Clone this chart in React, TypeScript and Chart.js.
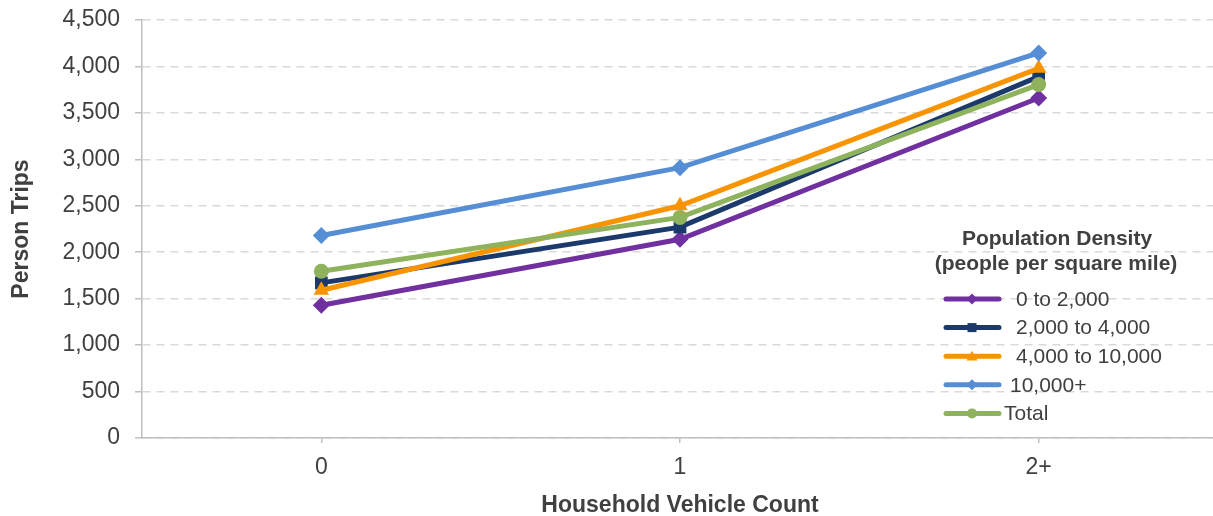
import React, { useEffect, useRef } from "react";
import { Chart, registerables } from "chart.js";

Chart.register(...registerables);

const categories = ["0", "1", "2+"];
const seriesLabels = ["0 to 2,000", "2,000 to 4,000", "4,000 to 10,000", "10,000+", "Total"];
const density0to2k = [1430, 2140, 3660];
const density2kto4k = [1670, 2270, 3890];
const density4kto10k = [1590, 2500, 3980];
const density10kPlus = [2180, 2910, 4145];
const densityTotal = [1795, 2375, 3805];
const yTicks = [0, 500, 1000, 1500, 2000, 2500, 3000, 3500, 4000, 4500];
const legendTitle = ["Population Density", "(people per square mile)"];

const colors = ["#7030A0", "#1B3A6B", "#F79400", "#558ED5", "#8EB35C"];
const markers = ["rectRot", "rect", "triangle", "rectRot", "circle"];
const markerRadius = [8.5, 9, 9, 8.5, 7.5];
const legendIndent = [16, 16, 16, 10, 4];

const FONT = '"Liberation Sans", Arial, sans-serif';
const TEXT = "#404040";
const AXIS = "#BFBFBF";

function drawMarker(ctx: CanvasRenderingContext2D, kind: string, x: number, y: number, r: number) {
  ctx.beginPath();
  if (kind === "rectRot") {
    ctx.moveTo(x, y - r);
    ctx.lineTo(x + r, y);
    ctx.lineTo(x, y + r);
    ctx.lineTo(x - r, y);
    ctx.closePath();
  } else if (kind === "rect") {
    ctx.rect(x - r, y - r, 2 * r, 2 * r);
  } else if (kind === "triangle") {
    ctx.moveTo(x, y - r);
    ctx.lineTo(x + r, y + r * 0.8);
    ctx.lineTo(x - r, y + r * 0.8);
    ctx.closePath();
  } else {
    ctx.arc(x, y, r, 0, Math.PI * 2);
  }
  ctx.fill();
}

const legendPlugin = {
  id: "customLegend",
  afterDraw(chart: any) {
    const ctx: CanvasRenderingContext2D = chart.ctx;
    ctx.save();
    ctx.fillStyle = TEXT;
    ctx.font = `bold 21px ${FONT}`;
    ctx.textAlign = "center";
    ctx.textBaseline = "middle";
    ctx.fillText(legendTitle[0], 1057, 239);
    ctx.fillText(legendTitle[1], 1056, 264);
    ctx.font = `21px ${FONT}`;
    ctx.textAlign = "left";
    seriesLabels.forEach((label, i) => {
      const y = 299 + i * 28.6;
      ctx.strokeStyle = colors[i];
      ctx.lineWidth = 5;
      ctx.lineCap = "round";
      ctx.beginPath();
      ctx.moveTo(946, y);
      ctx.lineTo(999, y);
      ctx.stroke();
      ctx.fillStyle = colors[i];
      const r = markers[i] === "rect" ? 4.5 : markers[i] === "circle" ? 5 : 5.5;
      drawMarker(ctx, markers[i], 972, y, r);
      ctx.fillStyle = TEXT;
      ctx.fillText(label, 1000 + legendIndent[i], y + 1);
    });
    ctx.restore();
  },
};

export default function App() {
  const ref = useRef<HTMLCanvasElement>(null);
  useEffect(() => {
    document.body.style.margin = "0";
    const values = [density0to2k, density2kto4k, density4kto10k, density10kPlus, densityTotal];
    const chart = new Chart(ref.current as HTMLCanvasElement, {
      type: "line",
      data: {
        labels: categories,
        datasets: seriesLabels.map((label, i) => ({
          label,
          data: values[i],
          borderColor: colors[i],
          backgroundColor: colors[i],
          borderWidth: 5,
          pointStyle: markers[i] as any,
          pointRadius: markerRadius[i],
          pointBorderWidth: 0,
          pointBackgroundColor: colors[i],
          tension: 0,
          order: seriesLabels.length - i,
        })),
      },
      options: {
        animation: false,
        responsive: false,
        layout: { autoPadding: false, padding: { top: 20, right: 0, left: 0, bottom: 0 } },
        plugins: { legend: { display: false }, tooltip: { enabled: false } },
        scales: {
          x: {
            type: "category",
            offset: true,
            border: { display: true, color: AXIS, width: 1.5 },
            grid: { drawOnChartArea: false, drawTicks: true, tickLength: 5, tickColor: AXIS, lineWidth: 1.5 },
            ticks: { color: TEXT, font: { family: FONT, size: 23 }, padding: 11 },
            title: {
              display: true,
              text: "Household Vehicle Count",
              color: TEXT,
              font: { family: FONT, size: 23, weight: "bold" },
              padding: { top: 0, bottom: -3 },
            },
            afterFit: (s: any) => {
              s.height = 78;
              s.paddingLeft = 0;
              s.paddingRight = 0;
            },
          },
          y: {
            min: 0,
            max: 4500,
            afterBuildTicks: (s: any) => { s.ticks = yTicks.map((v) => ({ value: v })); },
            border: { display: true, color: AXIS, width: 1.5, dash: [8, 6] },
            grid: {
              color: "#D9D9D9",
              lineWidth: 1.5,
              tickBorderDash: [] as any,
              tickColor: AXIS,
              tickLength: 7,
              drawTicks: true,
            } as any,
            ticks: {
              color: TEXT,
              font: { family: FONT, size: 23 },
              padding: 15,
              callback: (v: any) => Number(v).toLocaleString("en-US"),
            },
            title: {
              display: true,
              text: "Person Trips",
              color: TEXT,
              font: { family: FONT, size: 23, weight: "bold" },
              padding: { top: 8, bottom: 0 },
            },
            afterFit: (s: any) => {
              s.width = 142;
              s.paddingTop = 0;
              s.paddingBottom = 0;
            },
          },
        },
      } as any,
      plugins: [legendPlugin],
    });
    return () => chart.destroy();
  }, []);
  return (
    <div style={{ width: 1213, height: 516, overflow: "hidden" }}>
      <canvas ref={ref} width={1218} height={516} style={{ display: "block" }} />
    </div>
  );
}
